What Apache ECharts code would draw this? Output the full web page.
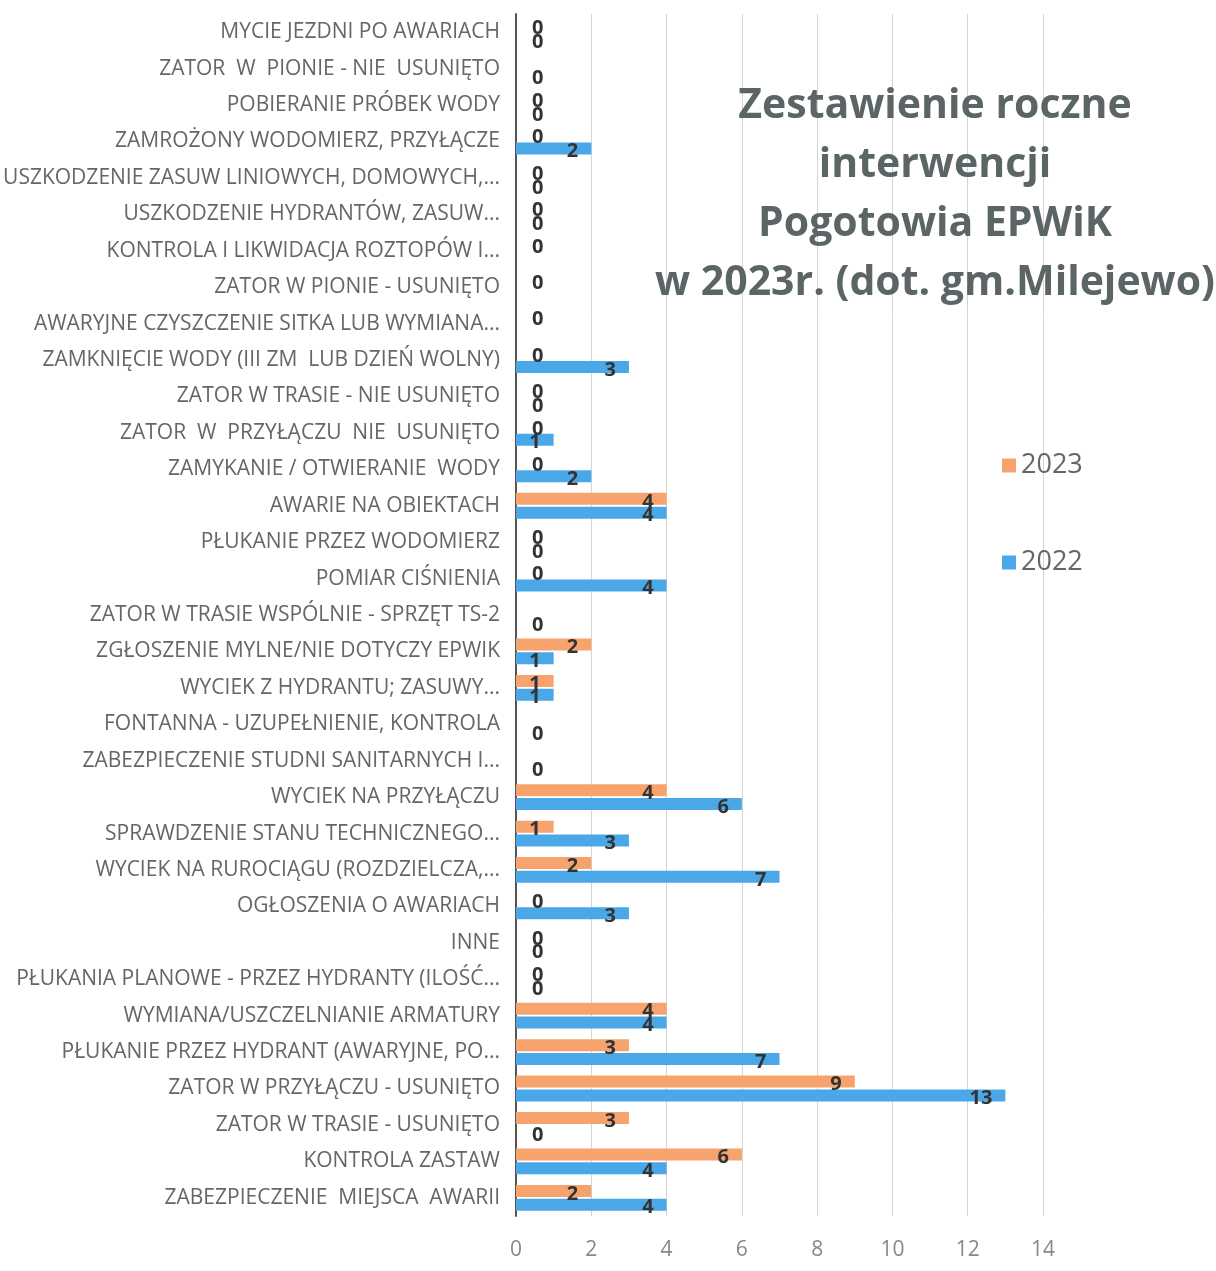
<!DOCTYPE html>
<html>
<head>
<meta charset="utf-8">
<script src="https://cdn.jsdelivr.net/npm/echarts@6/dist/echarts.min.js"></script>
<style>html,body{margin:0;padding:0;background:#fff;}#c{width:1216px;height:1271px;}</style>
</head>
<body>
<div id="c"></div>
<script>
const categories = [
  "MYCIE JEZDNI PO AWARIACH",
  "ZATOR  W  PIONIE - NIE  USUNIĘTO",
  "POBIERANIE PRÓBEK WODY",
  "ZAMROŻONY WODOMIERZ, PRZYŁĄCZE",
  "USZKODZENIE ZASUW LINIOWYCH, DOMOWYCH,...",
  "USZKODZENIE HYDRANTÓW, ZASUW...",
  "KONTROLA I LIKWIDACJA ROZTOPÓW I...",
  "ZATOR W PIONIE - USUNIĘTO",
  "AWARYJNE CZYSZCZENIE SITKA LUB WYMIANA...",
  "ZAMKNIĘCIE WODY (III ZM  LUB DZIEŃ WOLNY)",
  "ZATOR W TRASIE - NIE USUNIĘTO",
  "ZATOR  W  PRZYŁĄCZU  NIE  USUNIĘTO",
  "ZAMYKANIE / OTWIERANIE  WODY",
  "AWARIE NA OBIEKTACH",
  "PŁUKANIE PRZEZ WODOMIERZ",
  "POMIAR CIŚNIENIA",
  "ZATOR W TRASIE WSPÓLNIE - SPRZĘT TS-2",
  "ZGŁOSZENIE MYLNE/NIE DOTYCZY EPWIK",
  "WYCIEK Z HYDRANTU; ZASUWY...",
  "FONTANNA - UZUPEŁNIENIE, KONTROLA",
  "ZABEZPIECZENIE STUDNI SANITARNYCH I...",
  "WYCIEK NA PRZYŁĄCZU",
  "SPRAWDZENIE STANU TECHNICZNEGO...",
  "WYCIEK NA RUROCIĄGU (ROZDZIELCZA,...",
  "OGŁOSZENIA O AWARIACH",
  "INNE",
  "PŁUKANIA PLANOWE - PRZEZ HYDRANTY (ILOŚĆ...",
  "WYMIANA/USZCZELNIANIE ARMATURY",
  "PŁUKANIE PRZEZ HYDRANT (AWARYJNE, PO...",
  "ZATOR W PRZYŁĄCZU - USUNIĘTO",
  "ZATOR W TRASIE - USUNIĘTO",
  "KONTROLA ZASTAW",
  "ZABEZPIECZENIE  MIEJSCA  AWARII"
];
const values2023 = [0, null, 0, 0, 0, 0, 0, 0, 0, 0, 0, 0, 0, 4, 0, 0, null, 2, 1, null, null, 4, 1, 2, 0, 0, 0, 4, 3, 9, 3, 6, 2];
const values2022 = [0, 0, 0, 2, 0, 0, null, null, null, 3, 0, 1, 2, 4, 0, 4, 0, 1, 1, 0, 0, 6, 3, 7, 3, 0, 0, 4, 7, 13, 0, 4, 4];
const xTicks = [0, 2, 4, 6, 8, 10, 12, 14];
const seriesNames = ["2023", "2022"];
const titleText = "Zestawienie roczne\ninterwencji\nPogotowia EPWiK\nw 2023r. (dot. gm.Milejewo)";

function toItems(arr) {
  return arr.map(v => {
    if (v === null) return null;
    if (v === 0) return { value: 0, label: { position: 'right', distance: 16 } };
    return { value: v };
  });
}

const chart = echarts.init(document.getElementById('c'));
const FONT = "'Open Sans', sans-serif";
const labelCfg = {
  show: true,
  position: 'insideRight',
  distance: 13,
  color: '#333',
  fontSize: 20,
  fontWeight: 'bold',
  fontFamily: FONT,
  offset: [0, 3]
};
chart.setOption({
  backgroundColor: '#fff',
  animation: false,
  title: {
    text: titleText,
    left: 930,
    top: 72,
    textAlign: 'center',
    textStyle: { fontSize: 41, fontWeight: 'bold', color: '#5b6565', lineHeight: 59, fontFamily: FONT }
  },
  legend: {
    data: seriesNames,
    orient: 'vertical',
    left: 997,
    top: 447,
    itemGap: 70,
    itemWidth: 14,
    itemHeight: 14,
    icon: 'rect',
    textStyle: { fontSize: 27, color: '#666', fontFamily: FONT }
  },
  grid: { left: 516, right: 173, top: 14, bottom: 55, containLabel: false },
  xAxis: {
    type: 'value',
    min: 0, max: 14, interval: 2,
    axisLine: { show: false },
    axisTick: { show: false },
    splitLine: { show: true, lineStyle: { color: '#d4d4d4', width: 1 } },
    axisLabel: { color: '#888', fontSize: 21, margin: 24, fontFamily: FONT,
      formatter: v => xTicks.indexOf(v) >= 0 ? String(v) : '' }
  },
  yAxis: {
    type: 'category',
    data: categories,
    inverse: true,
    axisLine: { show: true, lineStyle: { color: '#555', width: 2 } },
    axisTick: { show: false },
    axisLabel: { color: '#666', fontSize: 21, margin: 16, fontFamily: FONT }
  },
  series: [
    { name: seriesNames[0], type: 'bar', data: toItems(values2023), itemStyle: { color: '#f7a36e' },
      barWidth: 12, barGap: '15%', label: labelCfg },
    { name: seriesNames[1], type: 'bar', data: toItems(values2022), itemStyle: { color: '#4aa8e8' },
      barWidth: 12, barGap: '15%', label: labelCfg }
  ]
});
</script>
</body>
</html>
